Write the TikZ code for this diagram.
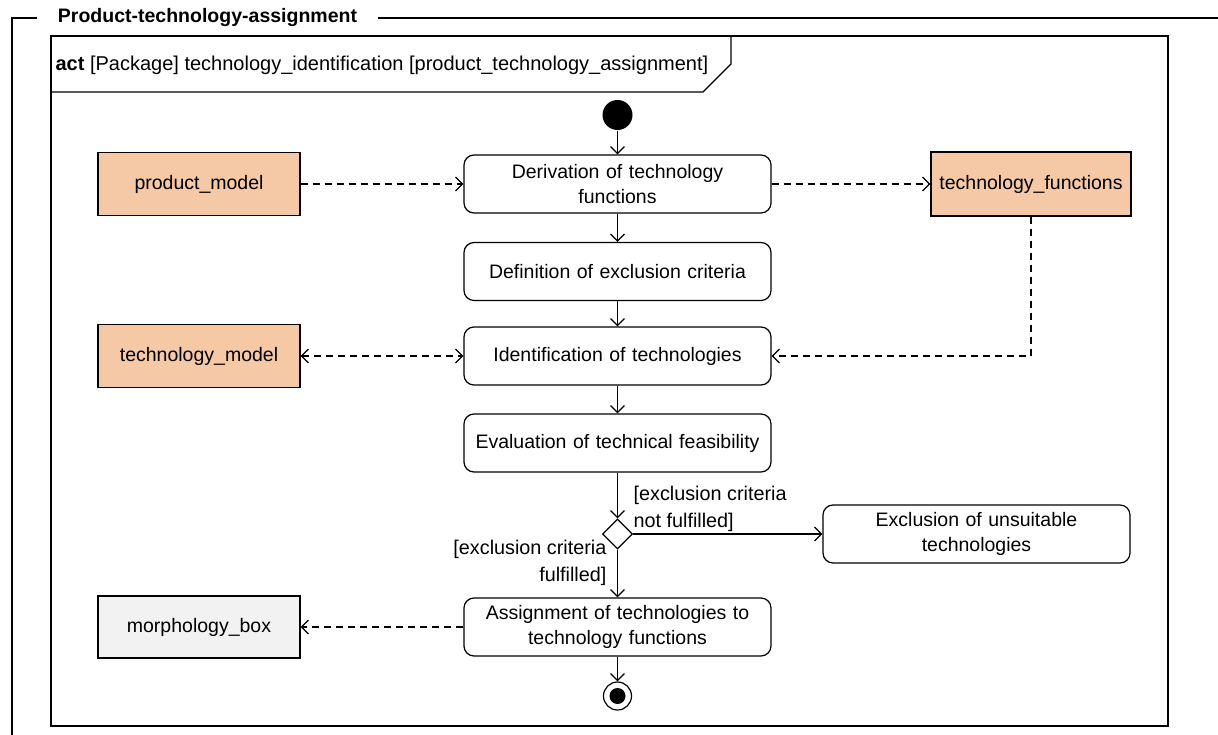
\documentclass[tikz,border=0pt]{standalone}
\usepackage{fontspec}
\setmainfont{Liberation Sans}
\usetikzlibrary{arrows.meta,shapes.geometric}
\definecolor{peach}{RGB}{245,200,166}
\definecolor{lightgrey}{RGB}{242,242,242}
\begin{document}
\begin{tikzpicture}[x=1pt,y=-1pt, line width=1.2pt,
  font=\fontsize{19.5}{25}\selectfont,
  tip/.tip={Straight Barb[length=7pt,width=14pt,line width=1.2pt]},
  arr/.style={-tip},
  darr/.style={-tip, dash pattern=on 7pt off 5pt},
  action/.style={draw, rounded corners=10pt, minimum width=307pt, minimum height=58pt, inner sep=0pt, align=center, text width=290pt},
  object/.style={draw, fill=peach, minimum width=202pt, minimum height=63pt, inner sep=0pt},
  guard/.style={inner sep=0pt, font=\fontsize{19.8}{27}\selectfont}
]
\useasboundingbox (0,0) rectangle (1218,735);

% outer frame
\node[font=\bfseries\fontsize{19.5}{25}\selectfont, inner xsep=20pt, inner ysep=0pt] (title) at (207.5,18) {Product-technology-assignment};
\draw (title.west) -- (12,18) -- (12,735);
\draw (title.east) -- (1218,18);

% inner frame
\draw (51,36) rectangle (1168,726);
\draw (51,92) -- (703,92) -- (731,64) -- (731,36);
\node[anchor=west, inner sep=0pt, font=\fontsize{20}{25}\selectfont] (hdr) at (55,65) {\textbf{act} [Package] technology\_identification [product\_technology\_assignment]};

% nodes
\node[circle, fill=black, minimum size=30pt, inner sep=0pt] (init) at (617.5,115) {};
\node[action] (deriv) at (617.5,184) {Derivation of technology\\functions};
\node[action] (defin) at (617.5,271.5) {Definition of exclusion criteria};
\node[action] (ident) at (617.5,356) {Identification of technologies};
\node[action] (eval) at (617.5,443) {Evaluation of technical feasibility};
\node[diamond, draw, minimum width=30pt, minimum height=30pt, inner sep=0pt] (dec) at (617.5,534) {};
\node[action] (excl) at (976.5,534) {Exclusion of unsuitable\\technologies};
\node[action] (assign) at (617.5,627) {Assignment of technologies to\\technology functions};
\node[circle, draw, minimum size=28pt, inner sep=0pt] (final) at (617.5,696) {};
\fill (final.center) circle (8);

\node[object] (pm) at (199,184) {product\_model};
\node[object, minimum width=200pt, minimum height=64pt] (tf) at (1031,184) {technology\_functions};
\node[object] (tm) at (199,356) {technology\_model};
\node[object, fill=lightgrey, minimum height=62pt] (mb) at (199,627) {morphology\_box};

% control flow
\draw[arr] (init) -- (deriv);
\draw[arr] (deriv) -- (defin);
\draw[arr] (defin) -- (ident);
\draw[arr] (ident) -- (eval);
\draw[arr] (eval) -- (dec);
\draw[arr] (dec) -- (excl);
\draw[arr] (dec) -- (assign);
\draw[arr] (assign) -- (final);

% guards
\node[guard, anchor=west, align=left] (g1) at (633,509) {[exclusion criteria\\not fulfilled]};
\node[guard, anchor=east, align=right] (g2) at (607,563) {[exclusion criteria\\fulfilled]};

% object flows
\draw[darr] (pm) -- (deriv);
\draw[darr] (deriv) -- (tf);
\draw[darr] (tf.south) |- (ident.east);
\draw[darr, tip-tip] (tm) -- (ident);
\draw[darr] (assign) -- (mb);
\end{tikzpicture}
\end{document}
